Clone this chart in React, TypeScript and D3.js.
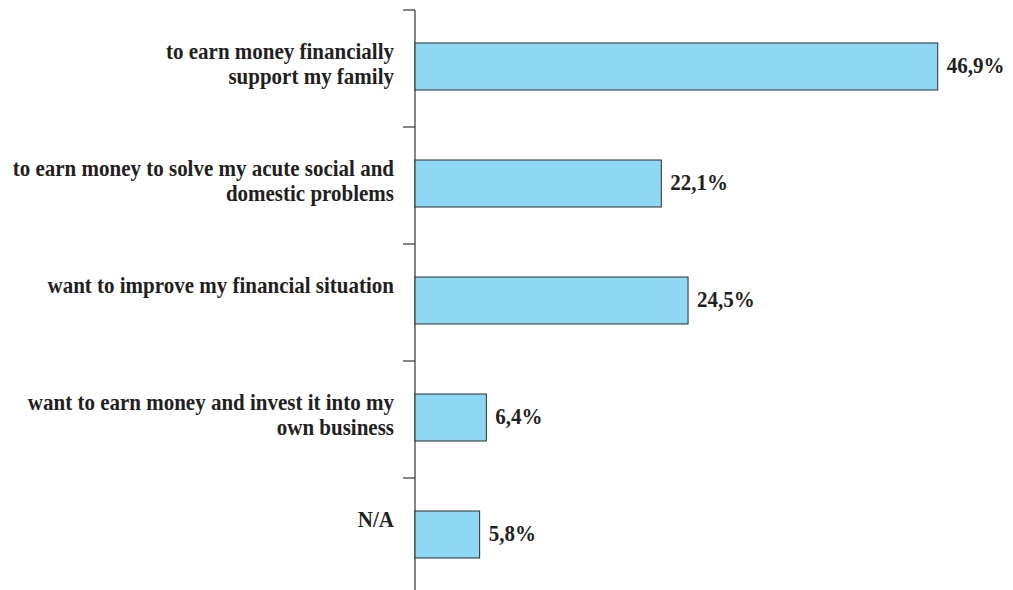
import React from 'react';
import * as d3 from 'd3';

const categories = [
  ['to earn money financially', 'support my family'],
  ['to earn money to solve my acute social and', 'domestic problems'],
  ['want to improve my financial situation'],
  ['want to earn money and invest it into my', 'own business'],
  ['N/A'],
];
const values = [46.9, 22.1, 24.5, 6.4, 5.8];
const valueLabels = ['46,9%', '22,1%', '24,5%', '6,4%', '5,8%'];

const W = 1013;
const H = 590;
const axisX = 415;
const font = '"Liberation Serif", "Times New Roman", serif';
const ink = '#231f20';
// source text is a bit taller than the font's natural proportions
const stretch = 'scale(1,1.1)';

export default function App() {
  const ids = categories.map((_, i) => String(i));
  const y = d3.scaleBand().domain(ids).range([10, 595]).padding(0);
  const x = d3.scaleLinear().domain([0, 46.9]).range([axisX, 937.7]);
  const step = y.step();
  const barH = 47;
  const barOff = (step - barH) / 2 - 2;

  return (
    <svg width={W} height={H} style={{ position: 'absolute', left: 0, top: 0, background: '#fff' }}>
      {/* axis */}
      <line x1={axisX} x2={axisX} y1={y.range()[0]} y2={y.range()[1]} stroke="#333" strokeWidth={1.2} />
      {[...ids, 'end'].map((id, i) => {
        const ty = i < ids.length ? (y(id) as number) : y.range()[1];
        return <line key={'t' + i} x1={axisX - 12} x2={axisX} y1={ty} y2={ty} stroke="#333" strokeWidth={1.2} />;
      })}
      {ids.map((id, i) => {
        const by = (y(id) as number) + barOff;
        const cy = by + barH / 2;
        return (
          <g key={id}>
            <rect x={x(0)} y={by} width={x(values[i]) - x(0)} height={barH}
              fill="#8ed8f6" stroke="#2b2b2b" strokeWidth={1} />
            <g transform={`translate(${x(values[i]) + 9},${cy + 6}) ${stretch}`}>
              <text fontFamily={font} fontWeight="bold" fontSize={21} fill={ink}>{valueLabels[i]}</text>
            </g>
            <g transform={`translate(394,${cy - 8}) ${stretch}`}>
              <text textAnchor="end" fontFamily={font} fontWeight="bold" fontSize={21} fill={ink}>
                {categories[i].map((line, j) => (
                  <tspan key={j} x={0} y={j * 23}>{line}</tspan>
                ))}
              </text>
            </g>
          </g>
        );
      })}
    </svg>
  );
}
